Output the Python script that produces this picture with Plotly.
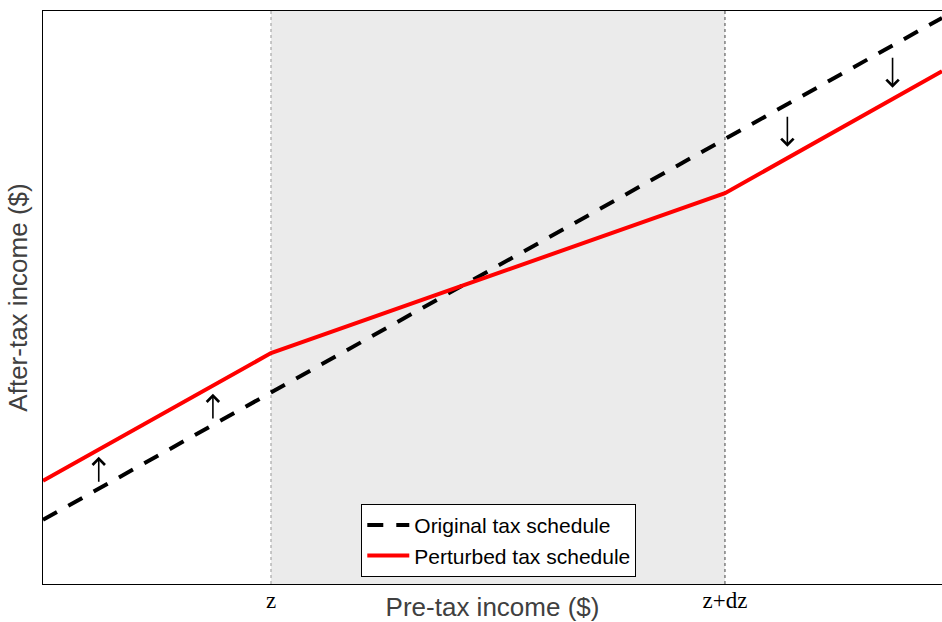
import plotly.graph_objects as go

# Data (x range 0..100, y range 0..100)
x_orig = [0, 100]
y_orig = [11.2, 98.8]
x_pert = [0, 25.36, 75.86, 100]
y_pert = [18.0, 40.3, 68.2, 89.5]
z_lo, z_hi = 25.36, 75.86
tick_vals = [z_lo, z_hi]
tick_text = ["z", "z+dz"]
arrow_x = [6.2, 18.9, 82.8, 94.5]
arrow_tail = [17.6, 28.6, 81.8, 92.1]
arrow_head = [22.2, 33.2, 76.3, 86.6]

fig = go.Figure()
fig.add_trace(go.Scatter(x=x_orig, y=y_orig, mode="lines", name="Original tax schedule",
                         line=dict(color="black", width=4, dash="16px,13px")))
fig.add_trace(go.Scatter(x=x_pert, y=y_pert, mode="lines", name="Perturbed tax schedule",
                         line=dict(color="#ff0000", width=4)))

fig.add_shape(type="rect", xref="x", yref="paper", x0=z_lo, x1=z_hi, y0=0, y1=1,
              fillcolor="#ebebeb", line=dict(width=0), layer="below")
fig.add_shape(type="line", xref="x", yref="paper", x0=z_lo, x1=z_lo, y0=0, y1=1,
              line=dict(color="#999999", width=1, dash="dot"), layer="below")
fig.add_shape(type="line", xref="x", yref="paper", x0=z_hi, x1=z_hi, y0=0, y1=1,
              line=dict(color="#444444", width=1, dash="dot"), layer="below")

for xa, yt, yh in zip(arrow_x, arrow_tail, arrow_head):
    fig.add_annotation(x=xa, y=yh, ax=xa, ay=yt, xref="x", yref="y", axref="x", ayref="y",
                       showarrow=True, arrowhead=4, arrowsize=1.5, arrowwidth=1.6,
                       arrowcolor="black", text="")

fig.update_layout(
    width=942, height=622,
    margin=dict(l=43, r=0, t=11, b=38),
    plot_bgcolor="white", paper_bgcolor="white",
    showlegend=True,
    legend=dict(x=0.507, y=0.076, xanchor="center", yanchor="middle",
                bgcolor="white", bordercolor="black", borderwidth=1,
                font=dict(family="Liberation Sans, Arial", size=21, color="black"),
                tracegroupgap=0, itemwidth=42),
    xaxis=dict(range=[0, 100], showgrid=False, zeroline=False, automargin=False,
               showline=True, linecolor="black", linewidth=1, mirror=True,
               tickmode="array", tickvals=tick_vals, ticktext=tick_text, ticks="",
               ticklabelstandoff=-5,
               tickfont=dict(family="Liberation Serif, Times New Roman, serif", size=23, color="black"),
               title=dict(text="Pre-tax income ($)", standoff=0,
                          font=dict(family="Liberation Sans, Arial", size=26, color="#404040"))),
    yaxis=dict(range=[0, 100], showgrid=False, zeroline=False, automargin=False,
               showline=True, linecolor="black", linewidth=1, mirror=False,
               showticklabels=False, ticks="",
               title=dict(text="After-tax income ($)", standoff=6,
                          font=dict(family="Liberation Sans, Arial", size=26, color="#404040"))),
)

fig.write_html("out.html", config={"displayModeBar": False},
               post_script="document.body.style.margin='0';document.body.style.overflow='hidden';")
